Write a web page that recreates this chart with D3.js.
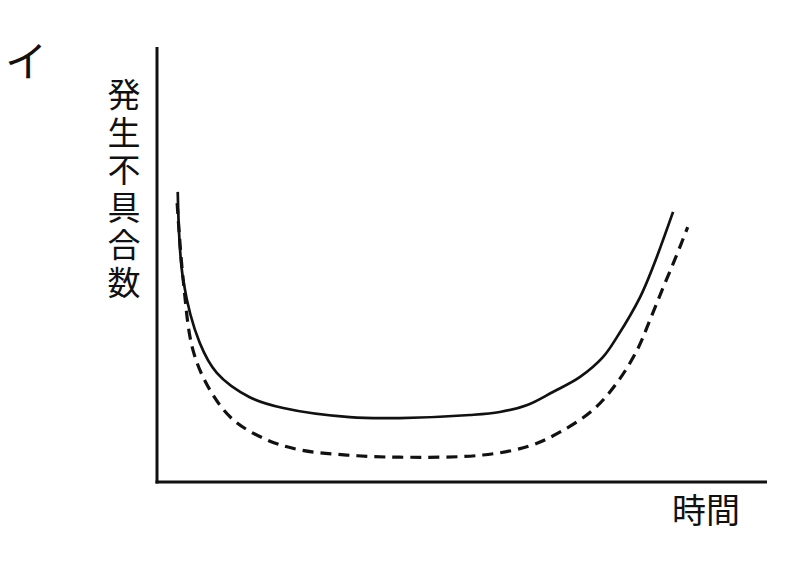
<!DOCTYPE html>
<html>
<head>
<meta charset="utf-8">
<script src="https://cdn.jsdelivr.net/npm/d3@7"></script>
<style>
  body { margin: 0; background: #fff; }
  text { font-family: "Noto Sans CJK JP", sans-serif; fill: #111; }
</style>
</head>
<body>
<div id="chart"></div>
<script>
// time (0-100) vs. failure count (0-100)
const solidTime = [3.4, 4.3, 7.0, 9.8, 15.2, 20.7, 31.6, 39.8, 51.3, 56.2, 60.7, 64.9, 69.3, 73.1, 75.4, 79.2, 81.3, 84.6];
const solidCount = [66.7, 46.4, 32.0, 25.1, 19.5, 17.0, 14.9, 14.7, 15.4, 16.1, 17.7, 20.7, 24.1, 28.7, 33.3, 42.5, 49.4, 62.1];
const dashedTime = [3.3, 4.3, 5.9, 8.7, 12.5, 18.0, 23.4, 31.1, 39.8, 53.4, 61.1, 66.1, 71.5, 75.4, 78.7, 80.8, 83.0, 85.0, 87.0];
const dashedCount = [64.1, 46.4, 30.3, 21.1, 14.3, 9.7, 7.4, 6.2, 5.7, 6.2, 8.3, 11.5, 16.6, 22.8, 30.3, 37.2, 44.8, 51.5, 58.6];
const yLabel = "発生不具合数";
const xLabel = "時間";
const panelLabel = "イ";

const width = 796, height = 570;
const margin = { left: 157, right: 29, top: 47, bottom: 88 };

const svg = d3.select("#chart")
  .append("svg")
  .attr("width", width)
  .attr("height", height);

const x = d3.scaleLinear().domain([0, 100]).range([margin.left, width - margin.right]);
const y = d3.scaleLinear().domain([0, 100]).range([height - margin.bottom, margin.top]);

// axes: plain lines, no ticks
svg.append("line")
  .attr("x1", x(0)).attr("x2", x(0))
  .attr("y1", y(0) + 1.5).attr("y2", y(100))
  .attr("stroke", "#111").attr("stroke-width", 3);
svg.append("line")
  .attr("x1", x(0) - 1.5).attr("x2", x(100))
  .attr("y1", y(0)).attr("y2", y(0))
  .attr("stroke", "#111").attr("stroke-width", 3);

const line = d3.line()
  .x(d => x(d[0]))
  .y(d => y(d[1]))
  .curve(d3.curveCatmullRom.alpha(0.5));

svg.append("path")
  .datum(solidTime.map((t, i) => [t, solidCount[i]]))
  .attr("d", line)
  .attr("fill", "none")
  .attr("stroke", "#111")
  .attr("stroke-width", 2.7);

svg.append("path")
  .datum(dashedTime.map((t, i) => [t, dashedCount[i]]))
  .attr("d", line)
  .attr("fill", "none")
  .attr("stroke", "#111")
  .attr("stroke-width", 3.2)
  .attr("stroke-dasharray", "11,7");

// y label written top to bottom as one vertical text
svg.append("text")
  .attr("x", 124)
  .attr("y", 78)
  .style("writing-mode", "vertical-rl")
  .style("font-size", "33px")
  .style("letter-spacing", "4.6px")
  .text(yLabel);

svg.append("text")
  .attr("x", 706)
  .attr("y", 511)
  .attr("dy", "0.36em")
  .attr("text-anchor", "middle")
  .style("font-size", "34px")
  .text(xLabel);

svg.append("text")
  .attr("x", 26)
  .attr("y", 62)
  .attr("dy", "0.36em")
  .attr("text-anchor", "middle")
  .style("font-size", "42px")
  .text(panelLabel);
</script>
</body>
</html>
